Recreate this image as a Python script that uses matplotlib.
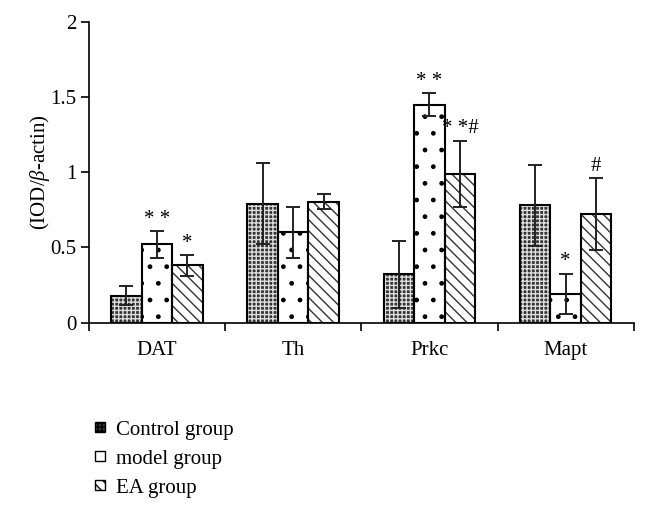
import matplotlib
matplotlib.use("Agg")
import matplotlib.pyplot as plt
import numpy as np
from matplotlib.patches import Patch

plt.rcParams['font.family'] = ['Liberation Serif', 'DejaVu Serif']
plt.rcParams['mathtext.fontset'] = 'custom'
plt.rcParams['mathtext.rm'] = 'Liberation Serif'
plt.rcParams['mathtext.it'] = 'Liberation Serif:italic'
plt.rcParams['hatch.linewidth'] = 1.0

categories = ["DAT", "Th", "Prkc", "Mapt"]
groups = ["Control group", "model group", "EA group"]
control = [0.18, 0.79, 0.32, 0.78]
control_err = [0.06, 0.27, 0.22, 0.27]
model = [0.52, 0.60, 1.45, 0.19]
model_err = [0.09, 0.17, 0.075, 0.135]
ea = [0.38, 0.805, 0.99, 0.72]
ea_err = [0.07, 0.05, 0.22, 0.24]
model_marks = ["* *", "", "* *", "*"]
ea_marks = ["*", "", "* *#", "#"]
yticks = [0, 0.5, 1, 1.5, 2]
ytick_labels = ["0", "0.5", "1", "1.5", "2"]

FS = 15

fig = plt.figure(figsize=(6.48, 5.12), dpi=100)
ax = fig.add_axes([0.137, 0.370, 0.841, 0.587])

x = np.arange(len(categories)) + 0.5
w = 0.224
offs = [-w, 0, w]
series = [control, model, ea]
errs = [control_err, model_err, ea_err]
faces = ['#333333', 'white', 'white']
hatch_cols = ['#dddddd', 'black', '#333333']
hatches = ['++++', '.', '\\\\\\']

for i in range(3):
    ax.bar(x + offs[i], series[i], w, color=faces[i], edgecolor=hatch_cols[i],
           hatch=hatches[i], linewidth=0, zorder=2)
    ax.bar(x + offs[i], series[i], w, fill=False, edgecolor='black',
           linewidth=1.5, zorder=3)
    ax.errorbar(x + offs[i], series[i], yerr=errs[i], fmt='none', ecolor='#222222',
                elinewidth=1.4, capsize=5, capthick=1.4, zorder=4)

for j in range(len(categories)):
    if model_marks[j]:
        ax.text(x[j], model[j] + model_err[j] + 0.015, model_marks[j],
                ha='center', va='bottom', fontsize=FS)
    if ea_marks[j]:
        ax.text(x[j] + w, ea[j] + ea_err[j] + 0.015, ea_marks[j],
                ha='center', va='bottom', fontsize=FS)

ax.set_xlim(0, 4)
ax.set_ylim(0, 2)
ax.set_yticks(yticks)
ax.set_yticklabels(ytick_labels, fontsize=FS)
ax.set_xticks(x)
ax.set_xticklabels(categories, fontsize=FS)
ax.tick_params(axis='x', length=0, pad=13)
ax.set_xticks([0, 1, 2, 3, 4], minor=True)
ax.tick_params(axis='x', which='minor', length=6, width=1.2, direction='out')
ax.tick_params(axis='y', length=6, width=1.2, direction='out', pad=3)
for s in ['top', 'right']:
    ax.spines[s].set_visible(False)
ax.spines['left'].set_linewidth(1.2)
ax.spines['bottom'].set_linewidth(1.2)
ax.set_ylabel(r'(IOD/$\mathit{\beta}$-actin)', fontsize=FS, labelpad=-1)

handles = [Patch(facecolor=faces[i], edgecolor='black', hatch=hatches[i], linewidth=1)
           for i in range(3)]
fig.legend(handles, groups, loc='upper left', bbox_to_anchor=(0.130, 0.199),
           frameon=False, fontsize=FS, handlelength=0.52, handleheight=0.3,
           handletextpad=0.5, labelspacing=0.48, borderpad=0)

fig.savefig('out.png', dpi=100)
